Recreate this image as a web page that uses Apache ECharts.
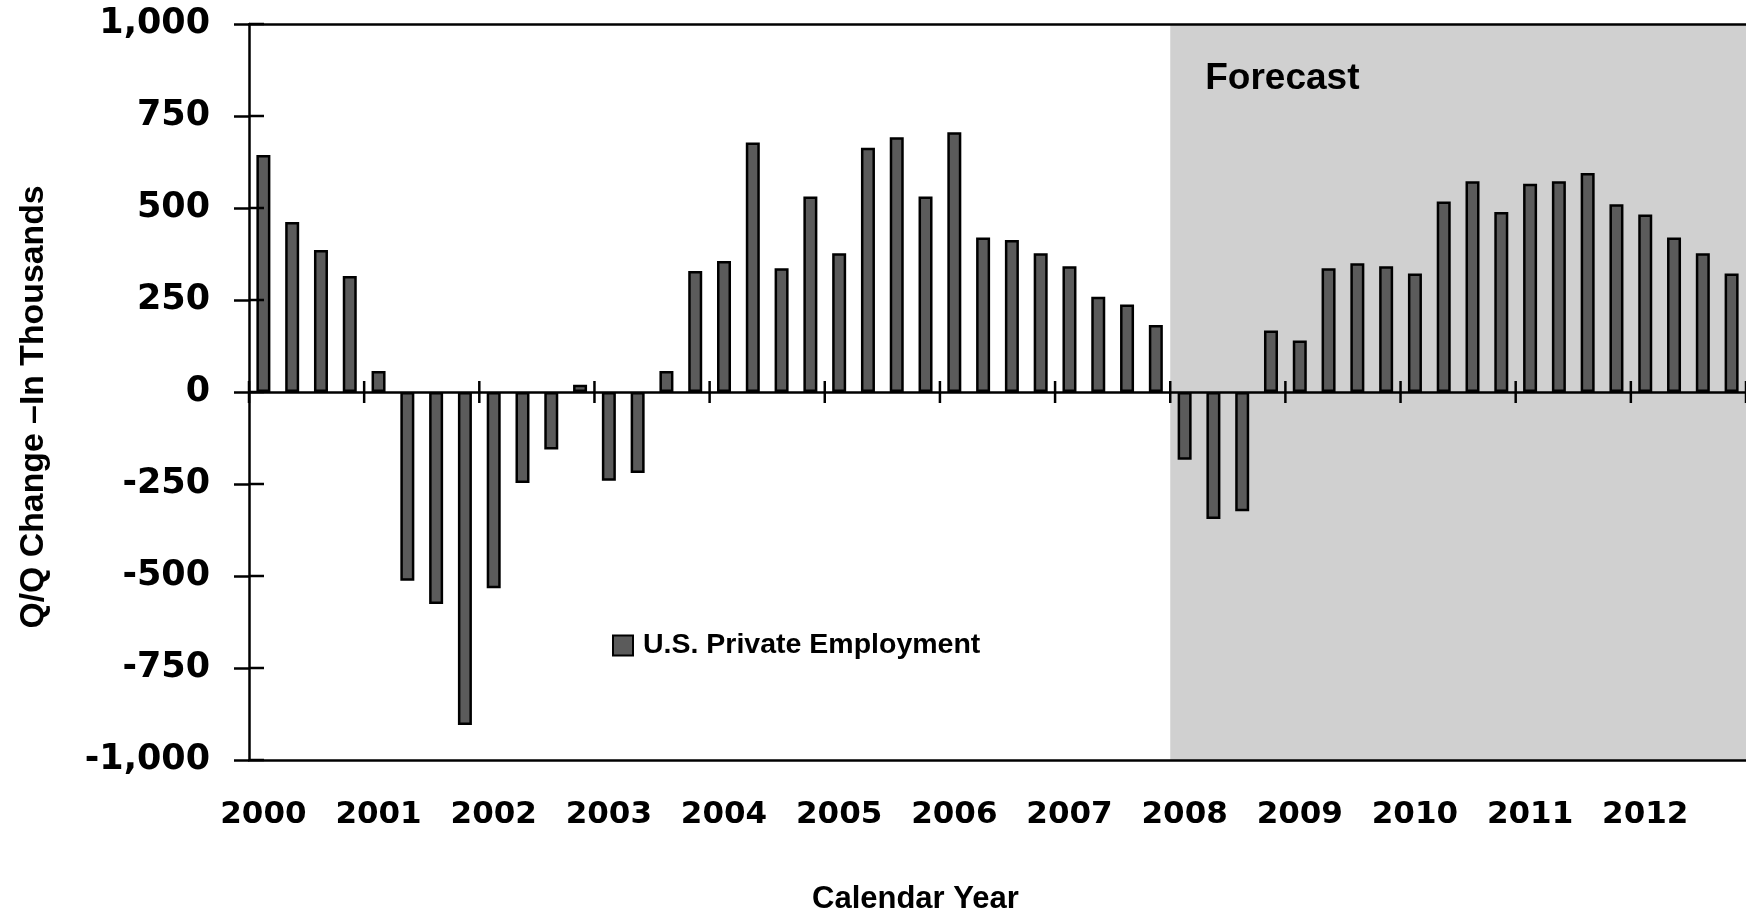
<!DOCTYPE html>
<html>
<head>
<meta charset="utf-8">
<script src="https://cdn.jsdelivr.net/npm/echarts@6/dist/echarts.min.js"></script>
<style>
html,body{margin:0;padding:0;background:#fff;}
#chart{width:1746px;height:913px;}
</style>
</head>
<body>
<div id="chart"></div>
<script>
// ---- data ----
const years = ['2000','2001','2002','2003','2004','2005','2006','2007','2008','2009','2010','2011','2012'];
const quarterNames = ['Q1','Q2','Q3','Q4'];
const categories = years.flatMap(y => quarterNames.map(q => y + ' ' + q));
const seriesName = 'U.S. Private Employment';
const employment = [
  644, 462, 386, 315,
  57, -513, -576, -905,
  -533, -247, -156, 20,
  -241, -220, 57, 329,
  356, 678, 336, 531,
  377, 664, 692, 531,
  706, 420, 413, 377,
  342, 259, 238, 182,
  -184, -345, -324, 167,
  140, 336, 350, 342,
  322, 518, 573, 489,
  566, 573, 595, 510,
  482, 420, 377, 322
];
const yMin = -1000, yMax = 1000, yInterval = 250;
const yTickValues = [-1000, -750, -500, -250, 0, 250, 500, 750, 1000];
const forecastStartIndex = 32;   // 2008 Q1
const forecastEndIndex = 52;     // end of 2012
const forecastLabel = 'Forecast';
const yTitle = 'Q/Q Change \u2013In Thousands';
const xTitle = 'Calendar Year';

// year boundaries in quarter units (start of each year + end of last)
const yearBoundaries = years.map((y, i) => i * quarterNames.length).concat([years.length * quarterNames.length]);

// ---- chart ----
const chart = echarts.init(document.getElementById('chart'), null, {renderer: 'canvas'});
const black = '#000';
const lineW = 2.5;
const tickFont = {fontFamily: 'DejaVu Sans', fontWeight: 'bold', color: black};
const textFont = '"Liberation Sans", Arial, sans-serif';

const option = {
  animation: false,
  backgroundColor: '#fff',
  grid: {left: 249, top: 24, width: 1506, height: 736, containLabel: false},
  title: {
    text: xTitle, left: 812, top: 884, padding: 0,
    textStyle: {fontFamily: textFont, fontWeight: 'bold', fontSize: 31, color: black}
  },
  legend: {
    data: [seriesName], left: 612, top: 631, padding: 0,
    itemWidth: 20, itemHeight: 20, icon: 'rect',
    textStyle: {fontFamily: textFont, fontWeight: 'bold', fontSize: 28.5, color: black, padding: [0, 0, 0, 5]}
  },
  graphic: [{
    type: 'text', x: 34, y: 407, rotation: Math.PI / 2, z: 10,
    style: {text: yTitle, font: 'bold 33.8px ' + textFont, fill: black,
            textAlign: 'center', textVerticalAlign: 'middle', align: 'center', verticalAlign: 'middle'}
  }],
  xAxis: [
    { // bottom border with year labels
      type: 'category', data: categories, position: 'bottom', z: 5,
      axisLine: {show: true, onZero: false, lineStyle: {color: black, width: lineW}},
      axisTick: {show: false},
      axisLabel: Object.assign({interval: 3, margin: 39, fontSize: 31,
        formatter: v => v.split(' ')[0]}, tickFont),
      splitLine: {show: false}
    },
    { // zero line
      type: 'category', data: categories, position: 'bottom', z: 5,
      axisLine: {show: true, onZero: true, onZeroAxisIndex: 0, lineStyle: {color: black, width: lineW}},
      axisTick: {show: false},
      axisLabel: {show: false}, splitLine: {show: false}
    },
    { // top border
      type: 'category', data: categories, position: 'top', z: 5,
      axisLine: {show: true, onZero: false, lineStyle: {color: black, width: lineW}},
      axisTick: {show: false}, axisLabel: {show: false}, splitLine: {show: false}
    },
    { // hidden quarter-count scale (forecast shading, year ticks)
      type: 'value', min: 0, max: categories.length, show: false, position: 'bottom',
      axisLine: {onZero: false}, splitLine: {show: false}
    }
  ],
  yAxis: [
    {
      type: 'value', min: yMin, max: yMax, interval: yInterval, position: 'left', z: 5,
      axisLine: {show: true, onZero: false, lineStyle: {color: black, width: lineW}},
      axisTick: {show: true, inside: false, length: 15, lineStyle: {color: black, width: lineW}},
      axisLabel: Object.assign({margin: 39, fontSize: 35,
        formatter: v => v.toLocaleString('en-US')}, tickFont),
      splitLine: {show: false}
    }
  ],
  series: [
    {
      name: 'forecast-area', type: 'line', xAxisIndex: 3, yAxisIndex: 0,
      data: [], showSymbol: false, silent: true,
      markArea: {
        silent: true,
        itemStyle: {color: '#d0d0d0'},
        label: {
          show: true, position: 'insideTopLeft', distance: 0, padding: [36, 0, 0, 35],
          fontFamily: textFont, fontWeight: 'bold', fontSize: 37, color: black
        },
        data: [[{name: forecastLabel, xAxis: forecastStartIndex}, {xAxis: forecastEndIndex}]]
      }
    },
    {
      name: seriesName, type: 'bar', xAxisIndex: 0, yAxisIndex: 0,
      data: employment, barWidth: 14,
      itemStyle: {color: '#5b5b5b', borderColor: black, borderWidth: 2.5}
    },
    { // year ticks crossing the zero line
      name: 'year-ticks', type: 'custom', xAxisIndex: 3, yAxisIndex: 0,
      silent: true, clip: false, z: 6,
      data: yearBoundaries.map(b => [b, 0]),
      renderItem: function (params, api) {
        const p = api.coord([api.value(0), api.value(1)]);
        return {type: 'line', shape: {x1: p[0], y1: p[1] - 11, x2: p[0], y2: p[1] + 11},
                style: {stroke: black, lineWidth: lineW}};
      }
    },
    { // inner half of the value-axis ticks
      name: 'value-ticks', type: 'custom', xAxisIndex: 3, yAxisIndex: 0,
      silent: true, clip: false, z: 6,
      data: yTickValues.map(v => [0, v]),
      renderItem: function (params, api) {
        const p = api.coord([api.value(0), api.value(1)]);
        return {type: 'line', shape: {x1: p[0], y1: p[1], x2: p[0] + 15, y2: p[1]},
                style: {stroke: black, lineWidth: lineW}};
      }
    }
  ]
};
chart.setOption(option);
</script>
</body>
</html>
